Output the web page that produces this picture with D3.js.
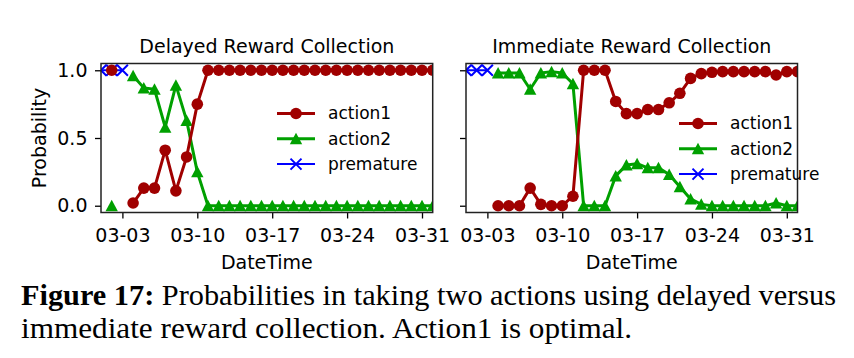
<!DOCTYPE html>
<html><head><meta charset="utf-8">
<script src="https://cdn.jsdelivr.net/npm/d3@7"></script>
<style>body{margin:0;background:#fff} svg{display:block}</style>
</head><body><svg id="c" width="854" height="358"></svg>
<script>
// ---- data ----
const dates = ["2019-03-01","2019-03-02","2019-03-03","2019-03-04","2019-03-05","2019-03-06","2019-03-07","2019-03-08",
  "2019-03-09","2019-03-10","2019-03-11","2019-03-12","2019-03-13","2019-03-14","2019-03-15","2019-03-16",
  "2019-03-17","2019-03-18","2019-03-19","2019-03-20","2019-03-21","2019-03-22","2019-03-23","2019-03-24",
  "2019-03-25","2019-03-26","2019-03-27","2019-03-28","2019-03-29","2019-03-30","2019-03-31","2019-04-01"];
const delayedAction1 = [null,1.0,null,0.02,0.13,0.13,0.41,0.11,0.36,0.75,1,1,1,1,1,1,1,1,1,1,1,1,1,1,1,1,1,1,1,1,1,1];
const delayedAction2 = [null,0.0,null,0.96,0.87,0.86,0.58,0.89,0.63,0.25,0,0,0,0,0,0,0,0,0,0,0,0,0,0,0,0,0,0,0,0,0,0];
const delayedPremature = [1,1,1,null,null,null,null,null,null,null,null,null,null,null,null,null,null,null,null,null,null,null,null,null,null,null,null,null,null,null,null,null];
const immediateAction1 = [null,null,null,0.0,0.0,0.0,0.13,0.01,0.0,0.0,0.07,1.0,1.0,1.0,0.77,0.68,0.68,0.71,0.71,0.76,0.83,0.94,0.975,0.985,0.99,0.99,0.99,0.99,0.99,0.965,0.99,0.99];
const immediateAction2 = [null,null,null,0.98,0.98,0.98,0.86,0.98,0.99,0.98,0.9,0.0,0.0,0.0,0.22,0.30,0.31,0.28,0.28,0.23,0.14,0.05,0.01,0.0,0.0,0.0,0.0,0.0,0.0,0.02,0.0,0.0];
const immediatePremature = [1,1,1,null,null,null,null,null,null,null,null,null,null,null,null,null,null,null,null,null,null,null,null,null,null,null,null,null,null,null,null,null];
const xTickLabels = ["03-03","03-10","03-17","03-24","03-31"];
const yTicks = [0.0, 0.5, 1.0];
const seriesNames = ["action1","action2","premature"];
const titles = ["Delayed Reward Collection","Immediate Reward Collection"];

// ---- styles ----
const colors = {action1:"#a00000", action2:"#00a000", premature:"#0000ff"};
const parse = d3.utcParse("%Y-%m-%d");
const dts = dates.map(parse);
const tickDates = xTickLabels.map(s => parse("2019-" + s));

const svg = d3.select("#c");
const plotTop = 63.5, plotBottom = 212.5;
const panels = [
  {x0:101, x1:432.7, title:titles[0], data:{action1:delayedAction1, action2:delayedAction2, premature:delayedPremature},
   legend:{x:277, y:113.5}, yLabels:true},
  {x0:466, x1:797.5, title:titles[1], data:{action1:immediateAction1, action2:immediateAction2, premature:immediatePremature},
   legend:{x:679, y:123.5}, yLabels:false}
];
const font = "DejaVu Sans, sans-serif";
const fs = 19;

function marker(g, name, x, y) {
  const s = 5.5;
  if (name === "action1") {
    g.append("circle").attr("cx", x).attr("cy", y).attr("r", 5.8).attr("fill", colors.action1);
  } else if (name === "action2") {
    g.append("path").attr("d", `M${x},${y-6}L${x+6.2},${y+5.5}L${x-6.2},${y+5.5}Z`).attr("fill", colors.action2);
  } else {
    g.append("path").attr("d", `M${x-s},${y-s}L${x+s},${y+s}M${x-s},${y+s}L${x+s},${y-s}`)
      .attr("stroke", colors.premature).attr("stroke-width", 2).attr("fill","none");
  }
}

panels.forEach((p, pi) => {
  const x = d3.scaleUtc().domain([dts[0], dts[dts.length-1]]).range([p.x0, p.x1]);
  const y = d3.scaleLinear().domain([-0.05, 1.05]).range([plotBottom, plotTop]);
  const clipId = "clip" + pi;
  svg.append("clipPath").attr("id", clipId).append("rect")
    .attr("x", p.x0).attr("y", plotTop).attr("width", p.x1 - p.x0).attr("height", plotBottom - plotTop);
  const g = svg.append("g").attr("clip-path", `url(#${clipId})`);
  const order = ["premature","action2","action1"];
  order.forEach(name => {
    const vals = p.data[name];
    const rows = vals.map((v,i) => ({d: dts[i], v}));
    const lineD = d3.line().defined(o => o.v != null).x(o => x(o.d)).y(o => y(o.v));
    g.append("path").datum(rows)
      .attr("d", lineD).attr("fill","none").attr("stroke", colors[name])
      .attr("stroke-width", name === "premature" ? 2 : 3).attr("stroke-linejoin","round");
    const mg = g.append("g");
    rows.filter(o => o.v != null).forEach(o => marker(mg, name, x(o.d), y(o.v)));
  });

  // axes
  const xa = d3.axisBottom(x).tickValues(tickDates).tickFormat((d,i) => xTickLabels[i]).tickSizeOuter(0).tickSize(6).tickPadding(10);
  const gx = svg.append("g").attr("transform", `translate(0,${plotBottom})`).call(xa);
  gx.select(".domain").remove();
  gx.selectAll("line").attr("stroke", "#000").attr("stroke-width", 1.3);
  gx.selectAll("text").attr("font-family", font).attr("font-size", fs).attr("fill","#000");
  const ya = d3.axisLeft(y).tickValues(yTicks).tickFormat(p.yLabels ? d3.format(".1f") : () => "").tickSizeOuter(0).tickSize(6).tickPadding(7.5);
  const gy = svg.append("g").attr("transform", `translate(${p.x0},0)`).call(ya);
  gy.select(".domain").remove();
  gy.selectAll("line").attr("stroke", "#000").attr("stroke-width", 1.3);
  gy.selectAll("text").attr("font-family", font).attr("font-size", fs).attr("fill","#000");

  // frame
  svg.append("rect").attr("x", p.x0).attr("y", plotTop).attr("width", p.x1 - p.x0).attr("height", plotBottom - plotTop)
    .attr("fill","none").attr("stroke","#222").attr("stroke-width",1.5);

  // title
  svg.append("text").attr("x", (p.x0+p.x1)/2).attr("y", plotTop - 10.5).attr("text-anchor","middle")
    .attr("font-family", font).attr("font-size", fs).attr("fill","#000").text(p.title);
  // x label
  svg.append("text").attr("x", (p.x0+p.x1)/2).attr("y", 269).attr("text-anchor","middle")
    .attr("font-family", font).attr("font-size", fs).attr("fill","#000").text("DateTime");

  // legend
  const lg = svg.append("g");
  seriesNames.forEach((name, k) => {
    const ly = p.legend.y + k * 25.3;
    lg.append("line").attr("x1", p.legend.x).attr("x2", p.legend.x + 38).attr("y1", ly).attr("y2", ly)
      .attr("stroke", colors[name]).attr("stroke-width", name === "premature" ? 2 : 3);
    marker(lg, name, p.legend.x + 19, ly);
    lg.append("text").attr("x", p.legend.x + 51).attr("y", ly).attr("dy","0.35em")
      .attr("font-family", font).attr("font-size", 17).attr("fill","#000").text(name);
  });
});

// y label
svg.append("text").attr("transform", `translate(46,${(plotTop+plotBottom)/2}) rotate(-90)`).attr("text-anchor","middle")
  .attr("font-family", font).attr("font-size", fs).attr("fill","#000").text("Probability");

// caption
const cap = svg.append("g").attr("font-family","Liberation Serif, Times New Roman, serif").attr("font-size",29.5).attr("fill","#000");
const l1 = cap.append("text").attr("x",21).attr("y",305).attr("textLength",815).attr("lengthAdjust","spacingAndGlyphs");
l1.append("tspan").attr("font-weight","bold").text("Figure 17:");
l1.append("tspan").text(" Probabilities in taking two actions using delayed versus");
cap.append("text").attr("x",21).attr("y",338).attr("textLength",611).attr("lengthAdjust","spacingAndGlyphs")
  .text("immediate reward collection. Action1 is optimal.");
</script></body></html>
